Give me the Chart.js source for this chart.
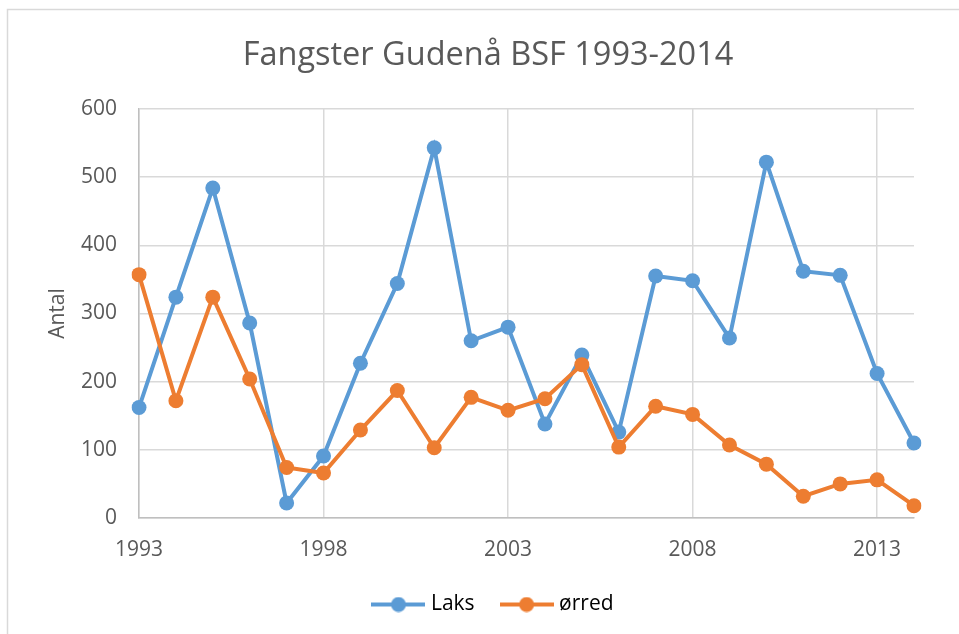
<!DOCTYPE html>
<html>
<head>
<meta charset="utf-8">
<script src="https://cdn.jsdelivr.net/npm/chart.js@4/dist/chart.umd.min.js"></script>
<style>
	html, body { margin: 0; padding: 0; background: #fff; }
	#wrap { width: 959px; height: 634px; }
</style>
</head>
<body>
<div id="wrap"><canvas id="chart" width="959" height="634"></canvas></div>
<script>
const years = ['1993', '1994', '1995', '1996', '1997', '1998', '1999', '2000', '2001', '2002', '2003',
	'2004', '2005', '2006', '2007', '2008', '2009', '2010', '2011', '2012', '2013', '2014'];
const laks = [162, 324, 484, 286, 22, 91, 227, 344, 543, 260, 280, 138, 239, 126, 355, 348, 264, 522, 362, 356, 212, 110];
const orred = [357, 172, 324, 204, 74, 66, 129, 187, 103, 177, 158, 175, 225, 104, 164, 152, 107, 79, 32, 50, 56, 18];
const yTicks = [0, 100, 200, 300, 400, 500, 600];

const BLUE = '#5b9bd5';
const ORANGE = '#ed7d31';
const TEXT = '#595959';
const FONT = "'Open Sans', sans-serif";

// legend marker: short line with a dot in the middle, like Excel
function legendMarker(color) {
	const c = document.createElement('canvas');
	c.width = 54;
	c.height = 16;
	const ctx = c.getContext('2d');
	ctx.strokeStyle = color;
	ctx.lineWidth = 4;
	ctx.beginPath();
	ctx.moveTo(0, 8);
	ctx.lineTo(54, 8);
	ctx.stroke();
	ctx.fillStyle = color;
	ctx.beginPath();
	ctx.arc(27, 8, 7.5, 0, Math.PI * 2);
	ctx.fill();
	return c;
}
const markers = [legendMarker(BLUE), legendMarker(ORANGE)];

const frame = {
	id: 'frame',
	beforeDraw(chart) {
		const ctx = chart.ctx;
		ctx.save();
		ctx.fillStyle = '#fff';
		ctx.fillRect(0, 0, chart.width, chart.height);
		ctx.strokeStyle = '#d9d9d9';
		ctx.lineWidth = 1.5;
		ctx.strokeRect(7.5, 9.5, 1000, 1000);
		ctx.restore();
	},
	// nudge the legend a little to the right, like the original
	afterLayout(chart) {
		if (!chart.legend) return;
		chart.legend.left += 7;
		chart.legend.right += 7;
	},
};

new Chart(document.getElementById('chart'), {
	type: 'line',
	data: {
		labels: years,
		datasets: [
			{
				label: 'Laks',
				data: laks,
				borderColor: BLUE,
				backgroundColor: BLUE,
				borderWidth: 4,
				pointRadius: 7.5,
				pointHoverRadius: 7.5,
				pointBorderWidth: 0,
				order: 1,
			},
			{
				label: 'ørred',
				data: orred,
				borderColor: ORANGE,
				backgroundColor: ORANGE,
				borderWidth: 4,
				pointRadius: 7.5,
				pointHoverRadius: 7.5,
				pointBorderWidth: 0,
				order: 0,
			},
		],
	},
	plugins: [frame],
	options: {
		responsive: false,
		animation: false,
		layout: { padding: { left: 17, right: 0, top: 0, bottom: 9 } },
		plugins: {
			title: {
				display: true,
				text: 'Fangster Gudenå BSF 1993-2014',
				color: TEXT,
				font: { family: FONT, size: 32.5, weight: 'normal' },
				padding: { top: 36, bottom: 34 },
			},
			legend: {
				position: 'bottom',
				labels: {
					color: TEXT,
					font: { family: FONT, size: 21 },
					usePointStyle: true,
					pointStyleWidth: 44,
					padding: 30,
					sort: (a, b) => a.datasetIndex - b.datasetIndex,
					generateLabels: (chart) => chart.data.datasets.map((ds, i) => ({
						text: ds.label,
						pointStyle: markers[i],
						fillStyle: ds.borderColor,
						strokeStyle: ds.borderColor,
						lineWidth: 0,
						hidden: false,
						datasetIndex: i,
					})),
				},
			},
			tooltip: { enabled: false },
		},
		scales: {
			x: {
				type: 'category',
				offset: false,
				grid: {
					color: (ctx) => (ctx.index % 5 === 0 ? '#d9d9d9' : 'rgba(0,0,0,0)'),
					lineWidth: 1.5,
					drawTicks: false,
				},
				border: { color: '#bfbfbf', width: 1.5 },
				ticks: {
					autoSkip: false,
					maxRotation: 0,
					padding: 19,
					color: TEXT,
					font: { family: FONT, size: 21 },
					callback: (value, index) => (index % 5 === 0 ? years[index] : ''),
				},
				afterFit: (scale) => { scale.height = 46; },
			},
			y: {
				min: 0,
				max: 600,
				afterBuildTicks: (scale) => { scale.ticks = yTicks.map((v) => ({ value: v })); },
				grid: { color: '#d9d9d9', lineWidth: 1.5, drawTicks: false },
				border: { color: '#bfbfbf', width: 1.5 },
				ticks: {
					padding: 22,
					color: TEXT,
					font: { family: FONT, size: 21 },
				},
				title: {
					display: true,
					text: 'Antal',
					color: TEXT,
					font: { family: FONT, size: 21 },
					padding: { top: 28, bottom: 0 },
				},
				afterFit: (scale) => { scale.width = 122; },
			},
			yr: {
				position: 'right',
				display: true,
				grid: { display: false },
				border: { display: false },
				ticks: { display: false },
				afterFit: (scale) => { scale.width = 45; },
			},
		},
	},
});
</script>
</body>
</html>
